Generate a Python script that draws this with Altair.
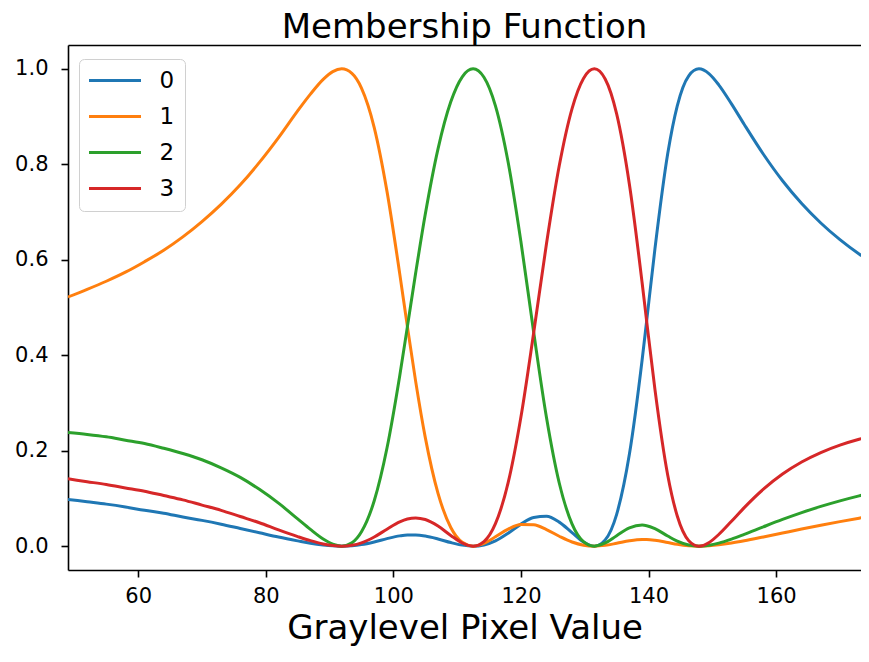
import altair as alt
import pandas as pd

# Graylevel pixel values (x positions of the sampled points)
x_vals = [49, 52, 55, 58, 61, 64, 67, 70, 73, 76,
          79, 82, 85, 87, 89, 90.5, 91.9, 93.5, 95, 97,
          99, 101, 102.2, 103.5, 105, 107, 109, 110.8, 112.5, 114.2,
          116, 118, 120, 122, 124, 126, 128, 129.8, 131.5, 133.2,
          135, 137, 139, 139.7, 141, 143, 144.5, 146.3, 147.9, 149.5,
          151, 153, 155, 158, 161, 164, 167, 170, 173, 175]

# membership of cluster 0 (blue)
m0 = [0.098, 0.093, 0.088, 0.082, 0.075, 0.069, 0.061, 0.054, 0.046, 0.037,
      0.028, 0.019, 0.011, 0.006, 0.0024, 0.0006, 0.0, 0.0009, 0.0033, 0.0088,
      0.0157, 0.0215, 0.0234, 0.0235, 0.0213, 0.0151, 0.0075, 0.0021, 0.0, 0.0025,
      0.0111, 0.0272, 0.0461, 0.0602, 0.0624, 0.0503, 0.0283, 0.0086, 0.0, 0.0131,
      0.0667, 0.1929, 0.3911, 0.4716, 0.6227, 0.8220, 0.9226, 0.9854, 1.0, 0.9896,
      0.9666, 0.9267, 0.8835, 0.8211, 0.7656, 0.7179, 0.6771, 0.6421, 0.6121, 0.5944]

# membership of cluster 1 (orange)
m1 = [0.522, 0.538, 0.555, 0.574, 0.596, 0.620, 0.648, 0.680, 0.716, 0.757,
      0.804, 0.856, 0.912, 0.947, 0.978, 0.9942, 1.0, 0.9904, 0.9597, 0.8771,
      0.7433, 0.5705, 0.4599, 0.3447, 0.2279, 0.1105, 0.0390, 0.0080, 0.0, 0.0057,
      0.0195, 0.0357, 0.0454, 0.0446, 0.0346, 0.0207, 0.0086, 0.0020, 0.0, 0.0017,
      0.0060, 0.0113, 0.0140, 0.0139, 0.0123, 0.0076, 0.0039, 0.0009, 0.0, 0.0008,
      0.0027, 0.0065, 0.0112, 0.0192, 0.0275, 0.0358, 0.0438, 0.0514, 0.0586, 0.0632]

# membership of cluster 2 (green)
m2 = [0.238, 0.234, 0.229, 0.222, 0.215, 0.205, 0.194, 0.181, 0.164, 0.144,
      0.119, 0.090, 0.057, 0.035, 0.0149, 0.0040, 0.0, 0.0070, 0.0301, 0.0950,
      0.2056, 0.3572, 0.4599, 0.5726, 0.6952, 0.8325, 0.9309, 0.9834, 1.0, 0.9823,
      0.9224, 0.8037, 0.6374, 0.4476, 0.2695, 0.1323, 0.0467, 0.0095, 0.0, 0.0066,
      0.0219, 0.0382, 0.0441, 0.0429, 0.0365, 0.0212, 0.0104, 0.0022, 0.0, 0.0019,
      0.0063, 0.0147, 0.0247, 0.0405, 0.0559, 0.0702, 0.0832, 0.0949, 0.1054, 0.1118]

# membership of cluster 3 (red)
m3 = [0.141, 0.135, 0.129, 0.122, 0.115, 0.106, 0.097, 0.086, 0.075, 0.062,
      0.049, 0.034, 0.020, 0.0115, 0.0046, 0.0012, 0.0, 0.0018, 0.0069, 0.0192,
      0.0355, 0.0508, 0.0568, 0.0592, 0.0557, 0.0420, 0.0225, 0.0066, 0.0, 0.0095,
      0.0470, 0.1334, 0.2711, 0.4476, 0.6336, 0.7968, 0.9163, 0.9799, 1.0, 0.9787,
      0.9055, 0.7577, 0.5508, 0.4716, 0.3285, 0.1492, 0.0631, 0.0115, 0.0, 0.0078,
      0.0244, 0.0521, 0.0807, 0.1193, 0.1510, 0.1762, 0.1960, 0.2116, 0.2239, 0.2307]

cluster_names = ["0", "1", "2", "3"]
cluster_colors = ["#1f77b4", "#ff7f0e", "#2ca02c", "#d62728"]
x_ticks = [60, 80, 100, 120, 140, 160]
y_ticks = [0.0, 0.2, 0.4, 0.6, 0.8, 1.0]

rows = []
for name, vals in zip(cluster_names, [m0, m1, m2, m3]):
    for xv, v in zip(x_vals, vals):
        rows.append({"x": xv, "u": v, "cluster": name})
df = pd.DataFrame(rows)

FONT = "DejaVu Sans"
X_DOMAIN = [49, 173.3]
y_scale = alt.Scale(domain=[-0.05, 1.05], nice=False, zero=False)
y_axis = alt.Axis(title=None, values=y_ticks, format=".1f", labelPadding=13)

base = alt.Chart(df)

lines = base.mark_line(interpolate="monotone", strokeWidth=3, clip=True).encode(
    x=alt.X("x:Q", scale=alt.Scale(domain=X_DOMAIN, nice=False, zero=False),
            axis=alt.Axis(orient="bottom", title="Graylevel Pixel Value",
                          values=x_ticks, format="d",
                          labelPadding=8, titlePadding=5)),
    y=alt.Y("u:Q", scale=y_scale, axis=y_axis),
    color=alt.Color("cluster:N",
                    scale=alt.Scale(domain=cluster_names, range=cluster_colors),
                    legend=alt.Legend(title=None, orient="none", legendX=11, legendY=14,
                                      symbolType="M-4,0L4,0", symbolSize=169,
                                      symbolStrokeWidth=3, symbolOffset=14.5,
                                      labelFontSize=23, labelFont=FONT,
                                      labelColor="#000000", labelOffset=33,
                                      padding=10, rowPadding=12,
                                      strokeColor="#d0d0d0", cornerRadius=5,
                                      fillColor="#ffffff")),
)

# invisible layer carrying the top spine (frame line above the plot)
top_frame = base.mark_point(opacity=0).encode(
    x=alt.X("x:Q", scale=alt.Scale(domain=X_DOMAIN, nice=False, zero=False),
            axis=alt.Axis(orient="top", labels=False, ticks=False, title=None,
                          domain=True)),
    y=alt.Y("u:Q", scale=y_scale, axis=y_axis),
)

chart = alt.layer(lines, top_frame).resolve_scale(
    x="independent"
).resolve_axis(
    x="independent"
).properties(
    title=alt.Title("Membership Function", fontSize=34, font=FONT, fontWeight="normal",
                    color="#000000", anchor="middle", frame="group", offset=0),
    width=793, height=525,
    autosize=alt.AutoSizeParams(type="none"),
    padding={"left": 60, "top": 37, "right": 0, "bottom": 77},
).configure_view(
    stroke=None
).configure_axis(
    grid=False, domainColor="#000000", domainWidth=1.6,
    tickColor="#000000", tickWidth=1.6, tickSize=7,
    labelFont=FONT, labelFontSize=21, labelColor="#000000",
    titleFont=FONT, titleFontSize=34, titleFontWeight="normal", titleColor="#000000",
)

chart.save("out.html", embed_options={"renderer": "svg", "actions": False})
